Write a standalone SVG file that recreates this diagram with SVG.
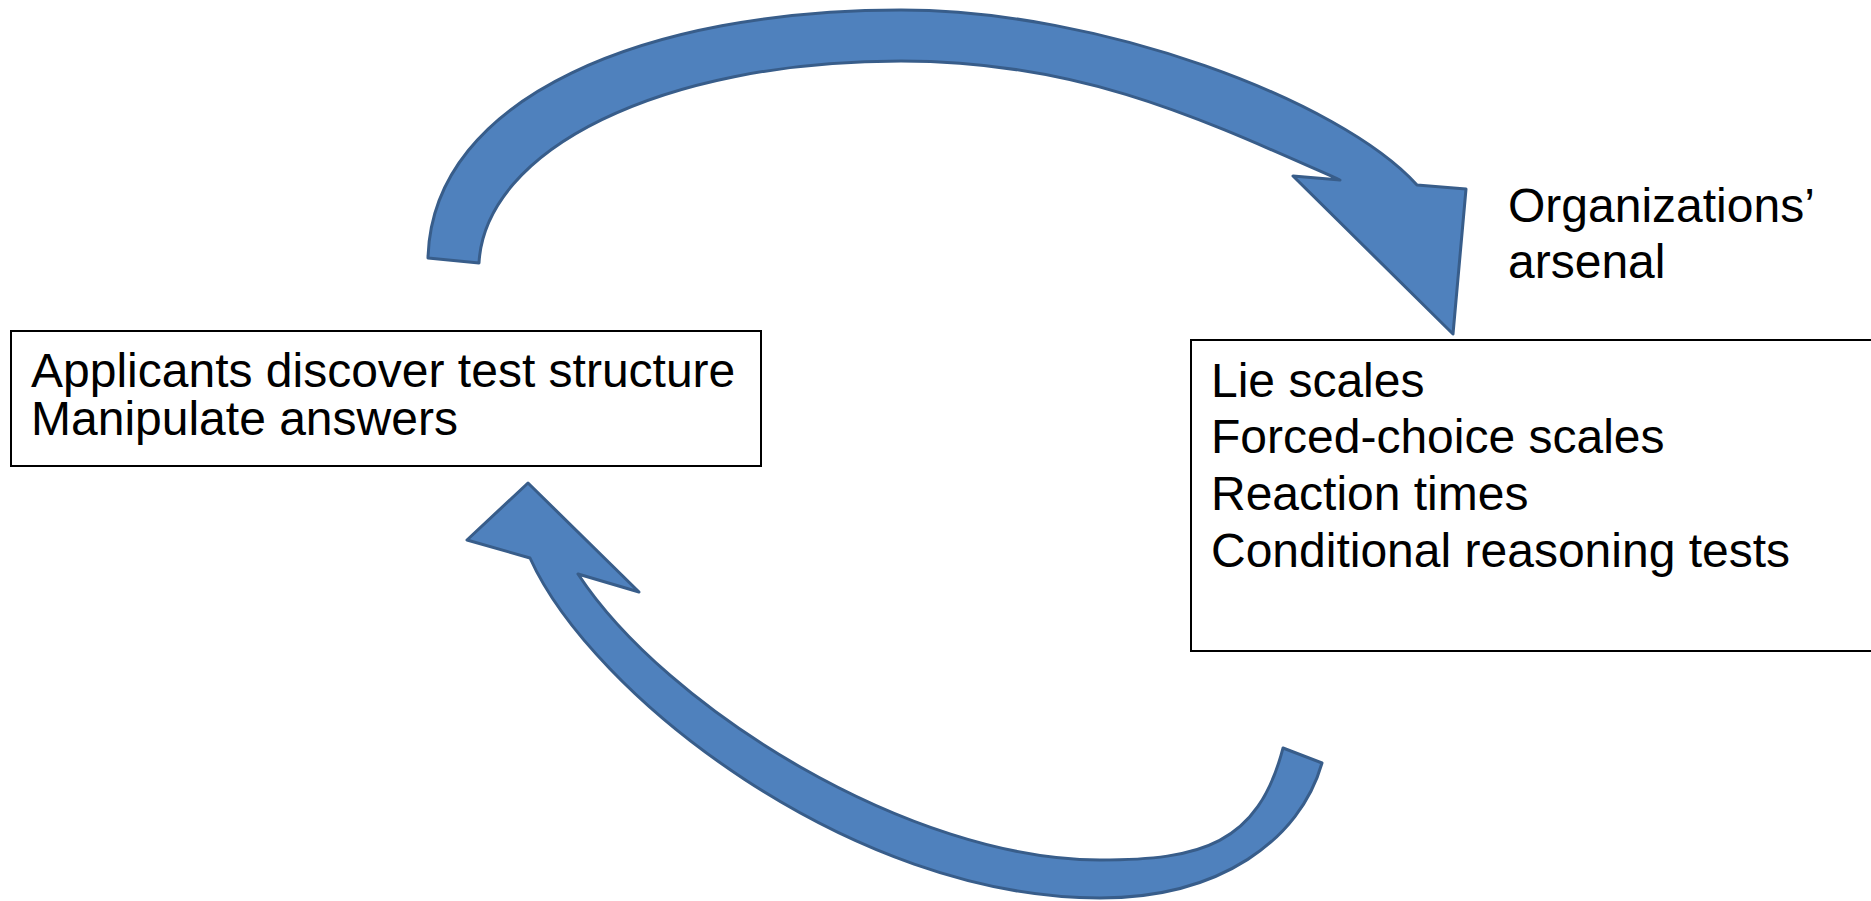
<svg xmlns="http://www.w3.org/2000/svg" width="1871" height="901" viewBox="0 0 1871 901">
<style>
.box{fill:#fff;stroke:#000;stroke-width:2}
.txt{font-family:"Liberation Sans",Arial,sans-serif;font-size:48px;fill:#000}
.arrow{fill:#4F81BD;stroke:#385D8A;stroke-width:3;stroke-linejoin:round}
</style>
<rect width="1871" height="901" fill="#fff"/>
<g id="connectors">
<path id="arrow-top" class="arrow" d="M428,258 C432,95 650,10 901,10 C1100,10 1340,100 1417,185 L1466,189 L1453,334 L1293,176 L1340,180 C1200,118 1080,61 901,61 C660,61 485,150 479,263 Z"/>
<path id="arrow-bottom" class="arrow" d="M528,483 L467,540 L530,558 C591.5,694.5 850,898 1100,898 C1220,898 1300,840 1322,763 L1283,748 C1258,845 1200,860 1100,860 C910,860 666,708 578,574 L639,592 Z"/>
</g>
<g id="node-applicants">
<rect class="box" x="11" y="331" width="750" height="135"/>
<text class="txt" x="31" y="387">Applicants discover test structure</text>
<text class="txt" x="31" y="435">Manipulate answers</text>
</g>
<g id="node-arsenal">
<rect class="box" x="1191" y="340" width="690" height="311"/>
<text class="txt" x="1211" y="397">Lie scales</text>
<text class="txt" x="1211" y="453">Forced-choice scales</text>
<text class="txt" x="1211" y="510">Reaction times</text>
<text class="txt" x="1211" y="567">Conditional reasoning tests</text>
</g>
<g id="label-organizations">
<text class="txt" x="1508" y="222">Organizations’</text>
<text class="txt" x="1508" y="278">arsenal</text>
</g>
</svg>
